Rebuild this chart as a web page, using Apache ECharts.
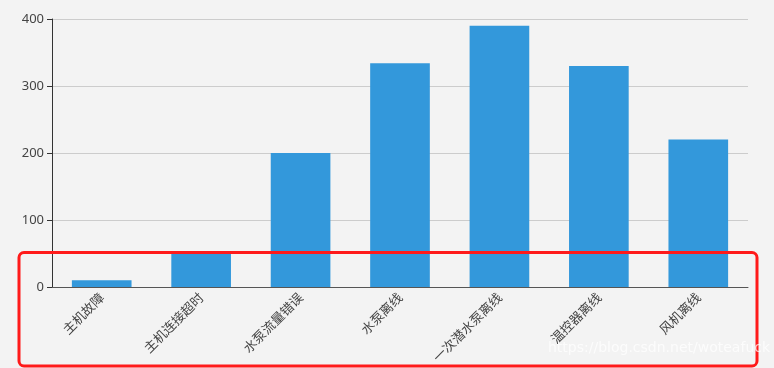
<!DOCTYPE html>
<html><head><meta charset="utf-8">
<script src="https://cdn.jsdelivr.net/npm/echarts@6/dist/echarts.min.js"></script>
<style>html,body{margin:0;padding:0;background:#f3f3f3}#c{width:774px;height:368px}</style>
</head><body><div id="c"></div>
<script>
const categories = ['主机故障','主机连接超时','水泵流量错误','水泵离线','一次潜水泵离线','温控器离线','风机离线'];
const values = [10, 50, 200, 334, 390, 330, 220];
const yTicks = [0, 100, 200, 300, 400];

const chart = echarts.init(document.getElementById('c'));
chart.setOption({
  backgroundColor: '#f3f3f3',
  animation: false,
  textStyle: {fontFamily: '"Noto Sans CJK SC", "Noto Sans", sans-serif'},
  grid: {left: 52, right: 26, top: 19, bottom: 81},
  xAxis: {
    type: 'category', data: categories,
    axisLine: {lineStyle: {color: '#555'}},
    axisTick: {alignWithLabel: true, lineStyle: {color: '#555'}},
    axisLabel: {rotate: 45, color: '#444', fontSize: 13, margin: 8}
  },
  yAxis: {
    type: 'value', min: yTicks[0], max: yTicks[yTicks.length-1], interval: 100,
    axisLine: {show: true, lineStyle: {color: '#333'}},
    axisTick: {show: true, lineStyle: {color: '#333'}},
    axisLabel: {color: '#444', fontSize: 13, fontFamily: '"Noto Sans", sans-serif'},
    splitLine: {lineStyle: {color: '#ccc'}}
  },
  series: [{type: 'bar', data: values, barWidth: '60%', itemStyle: {color: '#3398DB'}}],
  graphic: [
    {type: 'rect', shape: {x: 19, y: 252.5, width: 738, height: 113.5, r: 5},
     style: {fill: 'none', stroke: '#ff1a1a', lineWidth: 3}, z: 100},
    {type: 'text', left: 548, top: 341,
     style: {text: 'https://blog.csdn.net/woteafuck', fill: 'rgba(255,255,255,0.75)', font: '14px "DejaVu Sans", sans-serif'}, z: 101}
  ]
});
</script></body></html>
